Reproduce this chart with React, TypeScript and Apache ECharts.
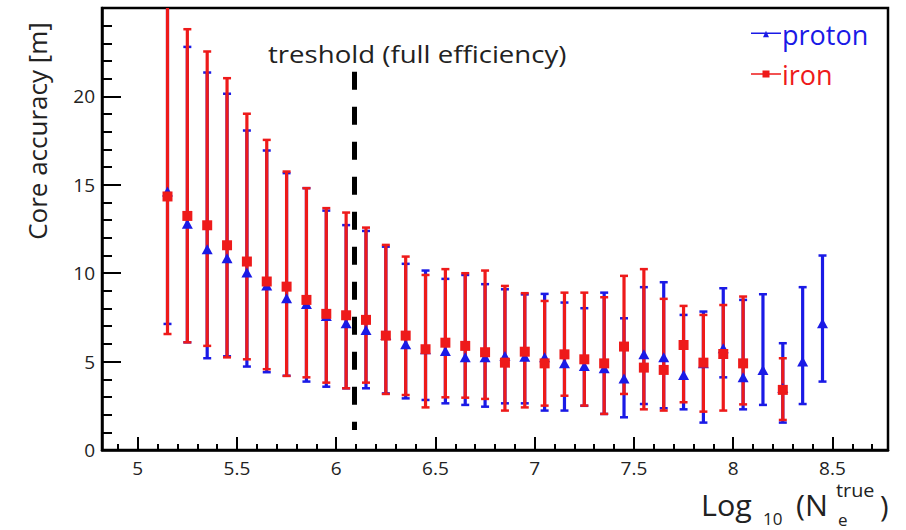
import React, { useEffect, useRef } from "react";
import * as echarts from "echarts";

// ---- data ----
const ironX = [5.15, 5.25, 5.35, 5.45, 5.55, 5.65, 5.75, 5.85, 5.95, 6.05, 6.15, 6.25, 6.35, 6.45, 6.55, 6.65, 6.75, 6.85, 6.95, 7.05, 7.15, 7.25, 7.35, 7.45, 7.55, 7.65, 7.75, 7.85, 7.95, 8.05, 8.25];
const ironMean = [14.34, 13.24, 12.71, 11.58, 10.66, 9.53, 9.24, 8.49, 7.7, 7.62, 7.36, 6.47, 6.47, 5.7, 6.07, 5.89, 5.53, 4.94, 5.56, 4.9, 5.41, 5.13, 4.9, 5.85, 4.66, 4.53, 5.94, 4.94, 5.43, 4.9, 3.4];
const ironLow = [6.56, 6.09, 5.89, 5.24, 5.13, 4.57, 4.19, 4.11, 3.81, 3.49, 3.81, 3.17, 3.11, 2.41, 2.98, 2.96, 2.89, 2.23, 2.41, 2.51, 3.07, 2.51, 2.04, 3.17, 2.3, 2.23, 2.7, 2.17, 2.23, 2.58, 1.7];
const ironHigh = [26.5, 23.8, 22.54, 21.03, 19.02, 17.54, 15.75, 14.81, 13.68, 13.43, 12.58, 11.6, 10.94, 9.9, 10.23, 10.0, 10.15, 9.28, 8.87, 8.43, 8.9, 8.9, 8.64, 9.85, 10.23, 8.55, 8.15, 7.64, 8.2, 8.68, 5.19];

const protonX = [5.15, 5.25, 5.35, 5.45, 5.55, 5.65, 5.75, 5.85, 5.95, 6.05, 6.15, 6.25, 6.35, 6.45, 6.55, 6.65, 6.75, 6.85, 6.95, 7.05, 7.15, 7.25, 7.35, 7.45, 7.55, 7.65, 7.75, 7.85, 7.95, 8.05, 8.15, 8.25, 8.35, 8.45];
const protonMean = [14.62, 12.79, 11.36, 10.85, 10.04, 9.3, 8.59, 8.26, 7.58, 7.17, 6.79, 6.5, 5.98, 5.7, 5.6, 5.24, 5.24, 5.32, 5.28, 5.24, 4.9, 4.75, 4.62, 4.04, 5.41, 5.24, 4.24, 4.9, 5.75, 4.11, 4.53, 3.5, 5.0, 7.17];
const protonLow = [7.13, 6.09, 5.19, 5.3, 4.72, 4.4, 4.2, 3.87, 3.58, 3.49, 3.49, 3.2, 2.92, 2.83, 2.64, 2.55, 2.45, 2.64, 2.64, 2.23, 2.23, 2.5, 2.04, 1.85, 2.6, 2.36, 2.3, 1.55, 4.11, 2.3, 2.55, 1.55, 2.6, 3.87];
const protonHigh = [26.5, 22.8, 21.35, 20.15, 18.07, 16.94, 15.66, 14.81, 13.54, 12.72, 12.39, 11.5, 10.53, 10.15, 9.68, 9.9, 9.38, 9.09, 8.8, 8.83, 8.34, 8.02, 8.9, 7.45, 9.21, 9.49, 7.64, 7.83, 9.15, 8.49, 8.81, 6.04, 9.21, 11.0];

const xMajorTicks = [5, 5.5, 6, 6.5, 7, 7.5, 8, 8.5];
const xMinorTicks = [4.9, 5.1, 5.2, 5.3, 5.4, 5.6, 5.7, 5.8, 5.9, 6.1, 6.2, 6.3, 6.4, 6.6, 6.7, 6.8, 6.9, 7.1, 7.2, 7.3, 7.4, 7.6, 7.7, 7.8, 7.9, 8.1, 8.2, 8.3, 8.4, 8.6, 8.7];
const thresholdX = 6.09;
const thresholdRange = [21.4, 1.13];

const RED = "#ee1a1a";
const BLUE = "#1a1ae6";
const FONT = '"Open Sans", sans-serif';

function errSeries(name: string, xs: number[], lo: number[], hi: number[], color: string, z: number) {
  return {
    type: "custom",
    name,
    clip: true,
    z,
    data: xs.map((x, i) => [x, lo[i], hi[i]]),
    encode: { x: 0, y: [1, 2] },
    renderItem: (params: any, api: any) => {
      const x = api.value(0);
      const pLo = api.coord([x, api.value(1)]);
      const pHi = api.coord([x, api.value(2)]);
      const cw = 4;
      return {
        type: "group",
        children: [
          { type: "line", shape: { x1: pLo[0], y1: pLo[1], x2: pHi[0], y2: pHi[1] }, style: { stroke: color, lineWidth: 3.2 } },
          { type: "line", shape: { x1: pLo[0] - cw, y1: pLo[1], x2: pLo[0] + cw, y2: pLo[1] }, style: { stroke: color, lineWidth: 2.5 } },
          { type: "line", shape: { x1: pHi[0] - cw, y1: pHi[1], x2: pHi[0] + cw, y2: pHi[1] }, style: { stroke: color, lineWidth: 2.5 } },
        ],
      };
    },
  };
}

function txt(text: string, x: number, y: number, size: number, extra: any = {}) {
  return {
    type: "text",
    x,
    y,
    ...extra,
    style: { text, fontSize: size, fontFamily: FONT, fill: "#222", align: "left", verticalAlign: "middle", textAlign: "left", textVerticalAlign: "middle", ...(extra.style || {}) },
  };
}

export default function App() {
  const ref = useRef<HTMLDivElement>(null);
  useEffect(() => {
    if (!ref.current) return;
    const chart = echarts.init(ref.current, undefined, { renderer: "svg" });
    const axisCommon = {
      type: "value",
      min: 4.82,
      max: 8.78,
      position: "bottom",
      splitLine: { show: false },
    };
    chart.setOption({
      animation: false,
      backgroundColor: "#fff",
      grid: { left: 102, right: 18, top: 8, bottom: 80, show: true, borderColor: "#000", borderWidth: 2.5, backgroundColor: "transparent" },
      legend: {
        orient: "vertical",
        left: 746,
        top: 14,
        itemWidth: 30,
        itemHeight: 10,
        itemGap: 10,
        selectedMode: false,
        textStyle: { fontSize: 27, fontFamily: FONT, lineHeight: 30, padding: [0, 0, 0, -4] },
        data: [
          { name: "proton", icon: "path://M0 4.2H30V5.8H0Z M12 9L15 2.5L18 9Z", itemStyle: { color: BLUE }, textStyle: { color: BLUE } },
          { name: "iron", icon: "path://M0 4.2H30V5.8H0Z M11.5 1.5H18.5V8.5H11.5Z", itemStyle: { color: RED }, textStyle: { color: RED } },
        ],
      },
      xAxis: [
        {
          ...axisCommon,
          axisLine: { show: true, lineStyle: { color: "#000", width: 2.5 } },
          axisTick: { show: true, inside: true, length: 13, customValues: xMajorTicks, lineStyle: { color: "#000", width: 2 } },
          axisLabel: { customValues: xMajorTicks, margin: 8, fontSize: 19, color: "#222", fontFamily: FONT },
        },
        {
          ...axisCommon,
          axisLine: { show: false },
          axisTick: { show: true, inside: true, length: 6, customValues: xMinorTicks, lineStyle: { color: "#000", width: 2 } },
          axisLabel: { show: false },
        },
      ],
      yAxis: {
        type: "value",
        min: 0,
        max: 25,
        interval: 5,
        splitLine: { show: false },
        axisLine: { show: true, lineStyle: { color: "#000", width: 2.5 } },
        axisTick: { show: true, inside: true, length: 19, lineStyle: { color: "#000", width: 2 } },
        minorTick: { show: true, splitNumber: 5, length: 10, lineStyle: { color: "#000", width: 2 } },
        axisLabel: { margin: 7, fontSize: 19, color: "#222", fontFamily: FONT, showMaxLabel: false },
      },
      graphic: [
        txt("treshold (full efficiency)", 268, 54, 23, { scaleX: 1.2 }),
        {
          type: "text",
          x: 37,
          y: 131,
          rotation: Math.PI / 2,
          style: { text: "Core accuracy [m]", fontSize: 26, fontFamily: FONT, fill: "#222", align: "center", verticalAlign: "middle", textAlign: "center", textVerticalAlign: "middle" },
        },
        txt("Log", 701, 505, 29, { scaleX: 1.05 }),
        txt("10", 763, 518, 17),
        txt("(N", 796, 505, 29, { scaleX: 1.05 }),
        txt("true", 836, 490, 18, { scaleX: 1.1 }),
        txt("e", 838, 519, 17),
        txt(")", 880, 505, 29),
      ],
      series: [
        errSeries("proton", protonX, protonLow, protonHigh, BLUE, 2),
        errSeries("iron", ironX, ironLow, ironHigh, RED, 3),
        {
          type: "scatter",
          name: "proton",
          z: 4,
          symbol: "triangle",
          symbolSize: [11, 10],
          itemStyle: { color: BLUE, opacity: 1 },
          data: protonX.map((x, i) => [x, protonMean[i]]),
        },
        {
          type: "scatter",
          name: "iron",
          z: 5,
          symbol: "rect",
          symbolSize: 10,
          itemStyle: { color: RED, opacity: 1 },
          data: ironX.map((x, i) => [x, ironMean[i]]),
          markLine: {
            silent: true,
            symbol: "none",
            label: { show: false },
            lineStyle: { color: "#000", width: 5, type: [18, 17] },
            data: [[{ coord: [thresholdX, thresholdRange[0]] }, { coord: [thresholdX, thresholdRange[1]] }]],
          },
        },
      ],
    });
    return () => chart.dispose();
  }, []);
  return <div ref={ref} style={{ width: 906, height: 530, position: "absolute", left: 0, top: 0 }} />;
}
